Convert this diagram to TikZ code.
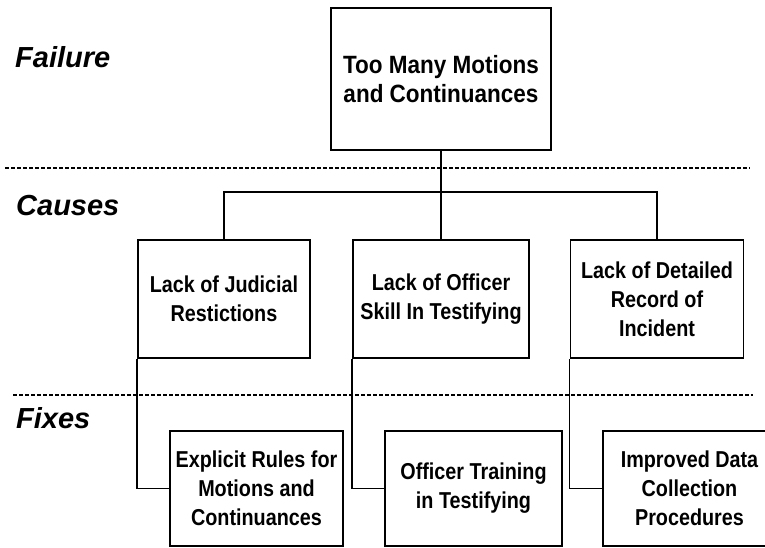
\documentclass[tikz,border=0pt]{standalone}
\usepackage{fontspec}
\setmainfont{Liberation Sans}
\newfontfamily\boxfont[FakeStretch=0.86]{Liberation Sans}
\newfontfamily\topfont[FakeStretch=0.9]{Liberation Sans}
\usepackage{tikz}
\usetikzlibrary{positioning}

\begin{document}
\begin{tikzpicture}[
  x=1pt, y=-1pt,
  box/.style={rectangle, draw, line width=1.8pt, align=center,
    font=\boxfont\bfseries\fontsize{23}{29}\selectfont},
  stage/.style={anchor=base west, inner sep=0pt,
    font=\bfseries\itshape\fontsize{29}{32}\selectfont},
  sep/.style={dash pattern=on 4pt off 2pt, line width=1.5pt},
  link/.style={line width=1.5pt}
]
  \useasboundingbox (0,0) rectangle (765,548);
  \clip (0,0) rectangle (765,548);

  % stage labels and separators
  \node[stage] (failure) at (15,68) {Failure};
  \node[stage] (causes) at (16,215) {Causes};
  \node[stage] (fixes) at (16,428) {Fixes};
  \draw[sep] (5,168) -- (750,168);
  \draw[sep] (13,395) -- (753,395);

  % failure
  \node[box, minimum width=220pt, minimum height=142pt,
    font=\topfont\bfseries\fontsize{25}{29}\selectfont] (fail) at (441,79)
    {Too Many Motions\\and Continuances};

  % causes
  \node[box, minimum width=172pt, minimum height=118pt] (judicial) at (224,299)
    {Lack of Judicial\\Restictions};
  \node[box, minimum width=176pt, minimum height=118pt] (skill) at (441,299)
    {Lack of Officer\\Skill In Testifying};
  \node[box, minimum width=173pt, minimum height=118pt] (record) at (657,299)
    {Lack of Detailed\\Record of\\Incident};

  % fixes
  \node[box, minimum width=173pt, minimum height=115pt] (rules) at (256.5,488.5)
    {Explicit Rules for\\Motions and\\Continuances};
  \node[box, minimum width=177pt, minimum height=115pt] (training) at (473.5,488.5)
    {Officer Training\\in Testifying};
  \node[box, minimum width=173pt, minimum height=115pt] (data) at (689.5,488.5)
    {Improved Data\\Collection\\Procedures};

  % tree lines
  \coordinate (bus) at (441,192);
  \draw[link] (fail.south) -- (skill.north);
  \draw[link] (judicial.north) |- (bus) -| (record.north);
  \draw[link] (judicial.south west) |- (rules.west);
  \draw[link] (skill.south west) |- (training.west);
  \draw[link] (record.south west) |- (data.west);
\end{tikzpicture}
\end{document}
